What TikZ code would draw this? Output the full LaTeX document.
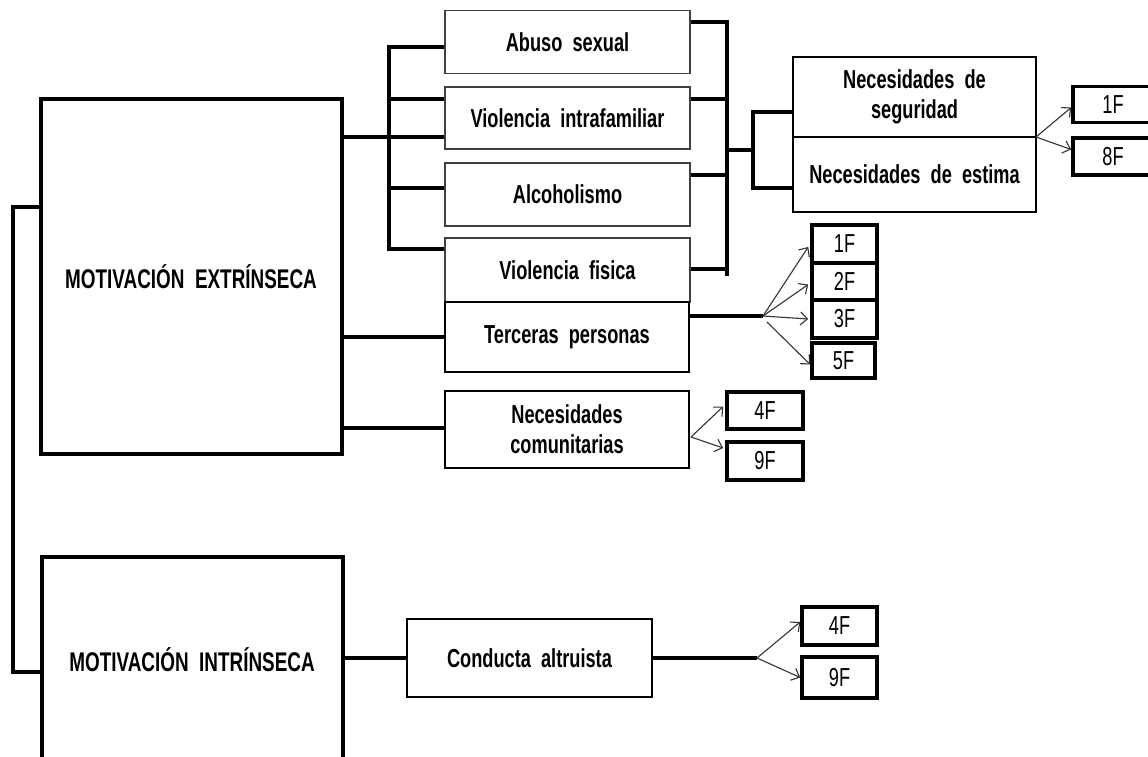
\documentclass[tikz,border=0pt]{standalone}
\usepackage{fontspec}
\setmainfont[FakeStretch=0.70,WordSpace=2]{Liberation Sans}
\usetikzlibrary{arrows.meta}
\begin{document}
\begin{tikzpicture}[x=1pt,y=-1pt,
  lbl/.style={font=\fontsize{26}{30}\selectfont\bfseries, align=center, inner sep=0pt},
  thinbox/.style={lbl, draw=black!75, line width=1.3pt, minimum width=245pt},
  midbox/.style={lbl, draw, line width=2.6pt},
  bigbox/.style={lbl, draw, line width=4pt, minimum width=301pt,
    font=\fontsize{27}{30}\selectfont\bfseries},
  tagbox/.style={draw, line width=3.6pt, inner sep=0pt,
    font=\fontsize{26}{28}\selectfont},
  conn/.style={line width=4pt},
  arr/.style={draw=black!80, line width=1.1pt,
    -{Straight Barb[length=7pt,width=13pt,line width=1.1pt]}}]
\useasboundingbox (0,0) rectangle (1148,756);
\begin{scope}
\clip (0,0) rectangle (1148,756);

% main motivation boxes
\node[bigbox, minimum height=355pt] (me) at (191,276.5) {MOTIVACIÓN EXTRÍNSECA};
\node[bigbox, minimum height=206pt] (mi) at (192,660) {MOTIVACIÓN INTRÍNSECA};

% first-level factor boxes
\node[thinbox, minimum height=63pt] (abuso) at (567.5,42) {Abuso sexual};
\node[thinbox, minimum height=62pt] (vif) at (567.5,118) {Violencia intrafamiliar};
\node[thinbox, minimum height=63pt] (alc) at (567.5,194.5) {Alcoholismo};
\node[thinbox, minimum height=64pt] (vf) at (567.5,270) {Violencia fisica};
\node[midbox, minimum width=244pt, minimum height=70pt] (terc) at (567,337) {Terceras personas};
\node[midbox, minimum width=244pt, minimum height=77pt] (comu) at (567,429.5) {Necesidades\\comunitarias};
\node[midbox, minimum width=245pt, minimum height=78pt] (cond) at (529.5,658) {Conducta altruista};

% needs boxes
\node[midbox, minimum width=243pt, minimum height=80pt] (nseg) at (914.5,97) {Necesidades de\\seguridad};
\node[midbox, minimum width=243pt, minimum height=75pt] (nest) at (914.5,174.5) {Necesidades de estima};

% case tags
\node[tagbox, minimum width=80pt, minimum height=36pt] (t1a) at (1113,104.5) {1F};
\node[tagbox, minimum width=80pt, minimum height=37pt] (t8) at (1113,156.5) {8F};
\node[tagbox, minimum width=65pt, minimum height=38pt] (t1b) at (844.5,244) {1F};
\node[tagbox, minimum width=65pt, minimum height=37pt] (t2) at (844.5,281.5) {2F};
\node[tagbox, minimum width=65pt, minimum height=38pt] (t3) at (844.5,319) {3F};
\node[tagbox, minimum width=63pt, minimum height=35pt] (t5) at (843.5,360.5) {5F};
\node[tagbox, minimum width=76pt, minimum height=37pt] (t4a) at (765,410.5) {4F};
\node[tagbox, minimum width=76pt, minimum height=38pt] (t9a) at (765,461) {9F};
\node[tagbox, minimum width=75pt, minimum height=38pt] (t4b) at (839.5,626) {4F};
\node[tagbox, minimum width=75pt, minimum height=41pt] (t9b) at (839.5,677.5) {9F};

% bracket points
\coordinate (lt) at (13,207);
\coordinate (lb) at (13,672);
\coordinate (bt) at (389,47);
\coordinate (bb) at (389,249);
\coordinate (ct) at (727,22);
\coordinate (cb) at (727,276);
\coordinate (cm) at (727,150);
\coordinate (dm) at (753,150);
\coordinate (dt) at (753,112);
\coordinate (db) at (753,188);
\coordinate (h1) at (763,316);
\coordinate (h2) at (691,437);
\coordinate (h3) at (757,658);
\coordinate (h4) at (1036,137);

% left bracket joining both motivations
\draw[conn] (me.west |- lt) -- (lt) -- (lb) -- (mi.west |- lb);

% extrinsic motivation to its factors
\draw[conn] (me.east |- 0,137) -- (vif.west |- 0,137);
\draw[conn] (abuso.west |- bt) -- (bt) -- (bb) -- (vf.west |- bb);
\draw[conn] (bt |- 0,99) -- (vif.west |- 0,99);
\draw[conn] (bt |- 0,188) -- (alc.west |- 0,188);
\draw[conn] (me.east |- terc.west) -- (terc.west);
\draw[conn] (me.east |- 0,428) -- (comu.west |- 0,428);

% factors to needs
\draw[conn] (abuso.east |- ct) -- (ct) -- (cb);
\draw[conn] (vif.east |- 0,99) -- (ct |- 0,99);
\draw[conn] (alc.east |- 0,175) -- (ct |- 0,175);
\draw[conn] (vf.east |- 0,269) -- (ct |- 0,269);
\draw[conn] (cm) -- (dm);
\draw[conn] (nseg.west |- dt) -- (dt) -- (db) -- (nest.west |- db);

% intrinsic motivation chain
\draw[conn] (mi.east |- cond.west) -- (cond.west);
\draw[conn] (cond.east) -- (h3);
\draw[conn] (terc.east |- h1) -- (h1);

% arrows to the case tags
\draw[arr] (h4) -- ([yshift=-3pt]t1a.west);
\draw[arr] (h4) -- ([yshift=7pt]t8.west);
\draw[arr] (h1) -- ([yshift=-3pt,xshift=-2pt]t1b.west);
\draw[arr] (h1) -- ([yshift=-3pt,xshift=-2pt]t2.west);
\draw[arr] (h1) -- ([xshift=-2pt]t3.west);
\draw[arr] ([yshift=-6pt,xshift=4pt]h1) -- ([yshift=-4pt]t5.west);
\draw[arr] (h2) -- ([yshift=4pt,xshift=-2pt]t4a.west);
\draw[arr] (h2) -- ([yshift=13pt,xshift=-2pt]t9a.west);
\draw[arr] (h3) -- ([yshift=4pt]t4b.west);
\draw[arr] (h3) -- ([yshift=0pt]t9b.west);
\end{scope}
\end{tikzpicture}
\end{document}
